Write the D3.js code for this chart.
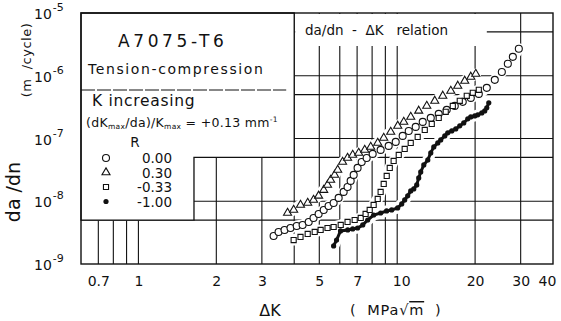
<!DOCTYPE html>
<html>
<head>
<meta charset="utf-8">
<script src="https://d3js.org/d3.v7.min.js"></script>
<style>
  body { margin: 0; background: #fff; }
  text { font-family: "DejaVu Sans", sans-serif; fill: #111; }
  .grid { stroke: #111; stroke-width: 1.1; }
</style>
</head>
<body>
<div id="chart"></div>
<script>
// R = 0.30 (open triangles)
const dkR030 = [3.77, 3.98, 4.23, 4.51, 4.75, 4.97, 5.20, 5.38, 5.53, 5.73, 5.89, 6.15, 6.43, 6.73, 7.10, 7.49,
  7.90, 8.41, 8.87, 9.44, 10.05, 10.60, 11.28, 12.11, 13.01, 13.97, 15.00, 16.11, 17.14, 18.24, 19.25, 20.12];
const dadnR030 = [6.51e-9, 7.27e-9, 8.73e-9, 9.40e-9, 1.05e-8, 1.22e-8, 1.51e-8, 1.82e-8, 2.19e-8, 2.63e-8, 3.16e-8,
  4.23e-8, 4.90e-8, 5.48e-8, 5.89e-8, 6.58e-8, 7.35e-8, 8.51e-8, 1.02e-7, 1.27e-7, 1.59e-7, 1.84e-7, 2.21e-7,
  2.76e-7, 3.31e-7, 3.98e-7, 4.78e-7, 5.74e-7, 6.90e-7, 8.29e-7, 9.60e-7, 1.07e-6];

// R = 0.00 (open circles)
const dkR000 = [3.33, 3.48, 3.67, 3.87, 4.09, 4.31, 4.55, 4.75, 4.97, 5.20, 5.43, 5.68, 5.94, 6.21, 6.43, 6.61,
  6.79, 7.03, 7.29, 7.62, 8.04, 8.63, 9.27, 9.87, 10.50, 11.08, 11.79, 12.55, 13.48, 14.47, 15.54, 16.69, 17.92,
  19.25, 20.67, 22.19, 23.83, 25.37, 26.76, 27.98, 29.51];
const dadnR000 = [2.80e-9, 3.24e-9, 3.49e-9, 3.75e-9, 4.04e-9, 4.19e-9, 4.68e-9, 5.42e-9, 6.27e-9, 7.27e-9,
  8.42e-9, 9.40e-9, 1.13e-8, 1.41e-8, 1.69e-8, 2.11e-8, 2.63e-8, 3.40e-8, 4.23e-8, 4.90e-8, 5.68e-8, 6.58e-8,
  7.62e-8, 8.83e-8, 1.10e-7, 1.32e-7, 1.53e-7, 1.84e-7, 2.13e-7, 2.47e-7, 2.86e-7, 3.31e-7, 3.84e-7, 4.44e-7,
  5.14e-7, 6.41e-7, 8.60e-7, 1.15e-6, 1.55e-6, 2.00e-6, 2.69e-6];

// R = -0.33 (open squares)
const dkRm033 = [3.98, 4.23, 4.51, 4.80, 5.06, 5.38, 5.68, 6.05, 6.43, 6.85, 7.23, 7.55, 7.83, 8.11, 8.41, 8.63,
  8.87, 9.11, 9.36, 9.69, 10.14, 10.69, 11.28, 12.00, 12.78, 13.60, 14.47, 15.40, 16.40, 17.45, 18.57, 19.59, 20.67];
const dadnRm033 = [2.41e-9, 2.70e-9, 3.01e-9, 3.24e-9, 3.49e-9, 3.75e-9, 3.89e-9, 4.19e-9, 4.68e-9, 5.03e-9,
  5.42e-9, 6.27e-9, 7.27e-9, 8.73e-9, 1.09e-8, 1.41e-8, 1.89e-8, 2.53e-8, 3.40e-8, 4.39e-8, 5.48e-8, 6.83e-8,
  8.51e-8, 1.06e-7, 1.37e-7, 1.71e-7, 2.13e-7, 2.66e-7, 3.31e-7, 3.98e-7, 4.78e-7, 5.34e-7, 5.96e-7];

// R = -1.00 (filled circles)
const dkRm100 = [5.68, 5.83, 6.04, 6.44, 6.73, 7.03, 7.36, 7.69, 8.11, 8.63, 9.10, 9.52, 10.04, 10.41, 10.69,
  10.98, 11.28, 11.59, 11.90, 12.11, 12.33, 12.67, 13.13, 13.48, 13.85, 14.35, 14.73, 15.27, 15.68, 16.25, 16.84,
  17.45, 18.08, 18.74, 19.24, 19.94, 20.48, 21.23, 21.79, 22.19, 22.59];
const dadnRm100 = [1.94e-9, 2.41e-9, 3.36e-9, 3.49e-9, 3.62e-9, 3.75e-9, 4.19e-9, 5.03e-9, 6.04e-9, 6.50e-9,
  7.00e-9, 7.27e-9, 7.82e-9, 9.06e-9, 1.05e-8, 1.22e-8, 1.46e-8, 1.57e-8, 1.82e-8, 2.35e-8, 2.93e-8, 3.79e-8,
  4.56e-8, 5.89e-8, 7.35e-8, 8.51e-8, 9.50e-8, 1.10e-7, 1.23e-7, 1.32e-7, 1.42e-7, 1.59e-7, 1.77e-7, 2.06e-7,
  2.21e-7, 2.29e-7, 2.38e-7, 2.56e-7, 2.75e-7, 3.08e-7, 3.70e-7];

const xTicks = [0.7, 1, 2, 3, 5, 7, 10, 20, 30, 40];
const yTicks = [-9, -8, -7, -6, -5];
const xGridLow = [0.7, 0.8, 0.9, 1];
const xGrid = [2, 3, 4, 5, 6, 7, 8, 9, 10, 20, 30];
const yGrid = [5e-9, 1e-8, 5e-8, 1e-7, 5e-7, 1e-6, 5e-6];
const legendR = ["0.00", "0.30", "-0.33", "-1.00"];
const legendSym = ["circle", "triangle", "square", "filled"];

const W = 561, H = 321;
const margin = {top: 13, right: 8, bottom: 57, left: 81};
const x = d3.scaleLog().domain([0.6, 40]).range([margin.left, W - margin.right]);
const y = d3.scaleLog().domain([1e-9, 1e-5]).range([H - margin.bottom, margin.top]);

const svg = d3.select("#chart").append("svg")
  .attr("width", W).attr("height", H)
  .style("background", "#fff");

// grid
const grid = svg.append("g").attr("class", "grid");
grid.selectAll(".hl").data(yGrid).join("line")
  .attr("x1", x(0.6)).attr("x2", x(40))
  .attr("y1", d => y(d)).attr("y2", d => y(d));
grid.selectAll(".vl").data(xGrid).join("line")
  .attr("x1", d => x(d)).attr("x2", d => x(d))
  .attr("y1", y(1e-5)).attr("y2", y(1e-9));
grid.selectAll(".vlow").data(xGridLow).join("line")
  .attr("x1", d => x(d)).attr("x2", d => x(d))
  .attr("y1", y(5e-9)).attr("y2", y(1e-9));

// legend box (blank region of the paper)
const bx1 = x(0.6), bx2 = x(4), bx3 = x(1.5) + 10, by1 = y(1e-5), by2 = y(5e-8), by3 = y(5e-9);
svg.append("path")
  .attr("d", `M${bx1},${by1}H${bx2}V${by2}H${bx3}V${by3}H${bx1}Z`)
  .attr("fill", "#fff").attr("stroke", "#111").attr("stroke-width", 1.3);
svg.append("line")
  .attr("x1", bx1).attr("x2", bx2 - 8).attr("y1", 90).attr("y2", 90)
  .attr("stroke", "#111").attr("stroke-width", 1).attr("stroke-dasharray", "14,2");

// title box top right
svg.append("rect")
  .attr("x", bx2 + 1).attr("y", y(1e-5) + 1)
  .attr("width", x(22) - bx2).attr("height", 32)
  .attr("fill", "#fff");

// data
const series = [
  {dk: dkR030, v: dadnR030, sym: "triangle"},
  {dk: dkR000, v: dadnR000, sym: "circle"},
  {dk: dkRm033, v: dadnRm033, sym: "square"},
  {dk: dkRm100, v: dadnRm100, sym: "filled"}
];
const line = d3.line().x(d => x(d[0])).y(d => y(d[1]));
const pts = s => s.dk.map((k, i) => [k, s.v[i]]);

// white halo erasing grid around the curves
svg.append("g").selectAll("path").data(series).join("path")
  .attr("d", s => line(pts(s)))
  .attr("fill", "none").attr("stroke", "#fff").attr("stroke-width", 11)
  .attr("stroke-linecap", "round").attr("stroke-linejoin", "round");

function marker(g, sym) {
  if (sym === "circle") {
    g.append("circle").attr("r", 3.5).attr("fill", "#fff").attr("stroke", "#111").attr("stroke-width", 1.1);
  } else if (sym === "triangle") {
    g.append("path").attr("d", d3.symbol(d3.symbolTriangle, 28)()).attr("fill", "#fff")
      .attr("stroke", "#111").attr("stroke-width", 1.1);
  } else if (sym === "square") {
    g.append("path").attr("d", d3.symbol(d3.symbolSquare, 26)()).attr("fill", "#fff")
      .attr("stroke", "#111").attr("stroke-width", 1.1);
  } else {
    g.append("circle").attr("r", 2.6).attr("fill", "#111");
  }
}

// filled series is a thick connected trace
svg.append("path")
  .attr("d", line(pts(series[3])))
  .attr("fill", "none").attr("stroke", "#111").attr("stroke-width", 3);

series.forEach(s => {
  pts(s).forEach(p => {
    const g = svg.append("g").attr("transform", `translate(${x(p[0])},${y(p[1])})`);
    marker(g, s.sym);
  });
});

// frame
svg.append("rect")
  .attr("x", x(0.6)).attr("y", y(1e-5))
  .attr("width", x(40) - x(0.6)).attr("height", y(1e-9) - y(1e-5))
  .attr("fill", "none").attr("stroke", "#111").attr("stroke-width", 1.4);

// x axis labels
const xAxis = svg.append("g")
  .attr("transform", `translate(0,${y(1e-9)})`)
  .call(d3.axisBottom(x).tickValues(xTicks).tickSize(0).tickFormat(d => String(d)));
xAxis.select(".domain").remove();
xAxis.selectAll("text")
  .attr("dy", "1.35em")
  .attr("dx", d => d === 40 ? -6 : d === 10 ? 4 : 0)
  .style("font-size", "14px").style("font-family", "DejaVu Sans, sans-serif").attr("fill", "#111");

// y axis labels 10^n
const yl = svg.append("g").selectAll("text").data(yTicks).join("text")
  .attr("x", 34).attr("y", d => y(Math.pow(10, d)) + 6)
  .style("font-size", "14px");
yl.append("tspan").text("10");
yl.append("tspan").attr("dy", -8).attr("dx", 1).style("font-size", "11px").text(d => "-" + Math.abs(d));

// axis titles
svg.append("text").attr("x", 270).attr("y", 316).attr("text-anchor", "middle")
  .style("font-size", "16px").text("ΔK");
const unit = svg.append("text").attr("x", 350).attr("y", 315).style("font-size", "14.5px")
  .style("letter-spacing", "0.8px").attr("xml:space", "preserve");
unit.append("tspan").text("(  MPa√");
unit.append("tspan").style("text-decoration", "overline").text("m");
unit.append("tspan").text("  )");

svg.append("text").attr("transform", "translate(20,192) rotate(-90)")
  .attr("text-anchor", "middle").style("font-size", "19px").text("da /dn");
svg.append("text").attr("transform", "translate(31,60) rotate(-90)")
  .attr("text-anchor", "middle").style("font-size", "13px").style("letter-spacing", "0.5px")
  .attr("xml:space", "preserve").text("(m  /cycle)");

// legend text
svg.append("text").attr("x", 118).attr("y", 47).style("font-size", "17px")
  .style("letter-spacing", "3.6px").text("A7075-T6");
svg.append("text").attr("x", 88).attr("y", 74).style("font-size", "14px")
  .style("letter-spacing", "1.6px").text("Tension-compression");
svg.append("text").attr("x", 92).attr("y", 106).style("font-size", "15.5px")
  .style("letter-spacing", "0.7px").text("K increasing");
const eq = svg.append("text").attr("x", 86).attr("y", 127).style("font-size", "12.5px")
  .style("letter-spacing", "0.3px");
eq.append("tspan").text("(dK");
eq.append("tspan").style("font-size", "7.5px").attr("dy", 2).text("max");
eq.append("tspan").attr("dy", -2).text("/da)/K");
eq.append("tspan").style("font-size", "7.5px").attr("dy", 2).text("max");
eq.append("tspan").attr("dy", -2).text(" = +0.13 mm");
eq.append("tspan").style("font-size", "7.5px").attr("dy", -5).text("-1");
svg.append("text").attr("x", 135).attr("y", 147).attr("text-anchor", "middle")
  .style("font-size", "13.5px").text("R");

legendR.forEach((r, i) => {
  const cy = 158 + i * 14.5;
  const g = svg.append("g").attr("transform", `translate(106,${cy})`);
  marker(g, legendSym[i]);
  svg.append("text").attr("x", 172).attr("y", cy + 5).attr("text-anchor", "end")
    .style("font-size", "13.5px").text(r);
});

// relation title
svg.append("text").attr("x", 305).attr("y", 35).style("font-size", "13.5px")
  .attr("xml:space", "preserve").text("da/dn  -  ΔK   relation");
</script>
</body>
</html>
